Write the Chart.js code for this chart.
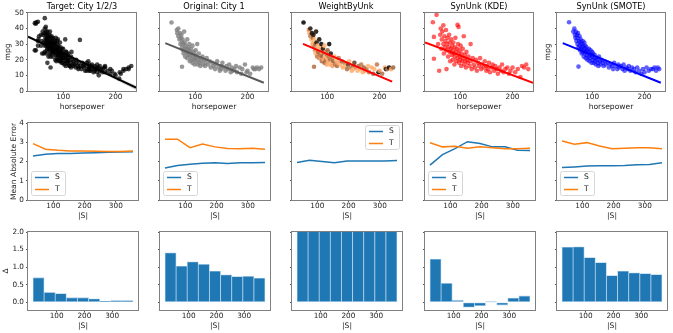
<!DOCTYPE html>
<html>
<head>
<meta charset="utf-8">
<script src="https://cdn.jsdelivr.net/npm/chart.js@4.4.0/dist/chart.umd.min.js"></script>
<style>
  html, body { margin: 0; padding: 0; background: #fff; }
  #fig { position: relative; width: 673px; height: 333px; }
  #fig canvas { position: absolute; }
</style>
</head>
<body>
<div id="fig"></div>
<script>
// ---- data ----
const panelTitles = ['Target: City 1/2/3', 'Original: City 1', 'WeightByUnk', 'SynUnk (KDE)', 'SynUnk (SMOTE)'];

// row 1: horsepower vs mpg
const targetPts = [
  [46,43.4],[46,26],[48,43.1],[48,26],[49,44],[52,44.3],[52,32],[52,29],[53,33],[54,35],[58,29],[58,36],[60,24],[60,32],[61,38],[62,36],[63,24],[63,31],[65,46.6],[65,40],[65,37],[65,29],[65,25],
  [66,34],[67,32],[67,36],[67,41],[67,30],[68,29],[68,38],[68,33],[68,24],[69,31],[69,33],[69,26],[70,36],[70,30],[70,27],[70,38],[70,18],[71,32],[71,34],[71,29],[72,28],[72,31],[72,35],[72,22],[74,26],[74,36],[74,31],[75,24],[75,29],[75,33],[75,38],[75,27],[76,15],[76,30],[76,34],[76,22],[77,27],[77,31],[78,32],[78,24],[78,35],[78,28],[79,26],[79,30],[80,28],[80,34],[80,22],[80,31],[80,25],
  [81,30],[81,26],[82,25],[82,33],[83,26],[83,29],[84,32],[84,30],[84,24],[85,27],[85,20],[85,31],[86,23],[86,28],[86,34],[87,19],[87,26],[88,24],[88,30],[88,21],[88,27],[89,26],[89,32],[90,25],[90,28],[90,20],[90,33],[90,23],[91,22],[91,29],[92,27],[92,24],[93,24],[93,19],[94,31],[94,26],[95,19],[95,23],[95,28],[95,21],[96,21],[96,25],[97,18],[97,25],[97,22],[98,22],[98,27],[99,20],[99,24],[100,24],[100,18],[100,27],[100,21],
  [102,17],[102,23],[103,21],[104,33],[105,16],[105,19],[105,22],[105,25],[106,25],[107,18],[107,21],[108,23],[108,19],[110,19],[110,17],[110,21],[110,24],[112,20],[112,16],[113,16],[115,18],[115,22],[115,15],[116,25],[118,17],[118,20],[120,19],[120,16],[122,17],[124,15],[125,20],[125,18],[128,16],[129,14],[130,18],[130,15],
  [132,32.7],[133,16],[135,14],[137,18],[138,16],[140,15],[140,17],[142,13],[145,13],[145,16],[145,18],[148,19],[148,14],[150,15],[150,14],[150,17],[150,13],[152,13],[153,16],[155,14],[155,17],[158,15],[158,12],[160,13],[160,16],[162,14],[163,14],[165,12],[165,17],[165,15],[167,15],[168,10],[170,13],[170,16],
  [172,14],[175,14],[175,12],[178,15],[180,12],[180,15],[180,16],[185,13],[190,11],[190,14],[193,13],[198,11],[200,10],[207,8],[208,12],[210,11],[215,14],[215,13],[220,14],[225,14],[225,15],[230,16]
];
const city1Pts = [
  [55,43.8],[65,39],[66,37],[68,35],[68,40],[70,33],[71,37],[72,30],[73,34],[74,36],[75,31],[75,28],[75,15.5],[76,33],[77,26],[78,30],[78,24],[79,38],[80,27],[80,31],
  [81,22],[82,29],[83,25],[84,27],[85,33],[85,21],[86,24],[87,28],[88,23],[88,26],[89,30],[90,19],[90,25],[91,22],[92,27],[93,20],[94,24],[95,29],[95,18],[96,22],
  [97,25],[98,20],[99,17],[100,23],[100,21],[101,26],[102,19],[103,22],[104,30],[105,17],[106,20],[107,24],[108,18],[110,21],[110,16],[112,19],[114,22],[115,17],[117,20],[119,16],
  [120,18],[122,21],[125,17],[128,19],[130,15],[133,18],[135,16],[138,14],[140,17],[142,19],[145,15],[147,13],[150,16],[150,14],[152,18],[155,15],[158,13],[160,16],[163,14],[165,17],
  [168,12],[170,15],[172,13],[175,14],[178,16],[180,12],[185,15],[188,11],[190,14],[195,17],[198,12],[200,13],[205,11],[210,15],[212,14],[215,14],[218,15],[222,14],[226,15]
];
// importance weight of each City 1 point (0 = dark, 1 = light)
const city1Weight = [
  0.0,0.7,0.9,0.6,0.1,0.9,0.05,0.8,0.5,0.1,0.9,0.6,0.55,0.95,0.7,0.5,0.9,0.05,0.8,0.1,
  0.6,0.9,0.5,0.95,0.05,0.7,0.55,0.9,0.6,0.85,0.0,0.55,0.9,0.5,0.1,0.8,0.6,0.9,0.5,0.95,
  0.7,0.55,0.8,0.6,0.9,0.5,0.85,0.6,0.0,0.9,0.55,0.1,0.9,0.6,0.8,0.5,0.9,0.6,0.95,0.55,
  0.8,0.6,0.9,0.5,0.85,0.6,0.9,0.55,0.3,0.9,0.6,0.85,0.5,0.9,0.3,0.7,0.9,0.55,0.85,0.6,
  0.9,0.5,0.8,0.55,0.9,0.6,0.85,0.5,0.9,0.6,0.0,0.8,0.55,0.9,0.1,0.6,0.05,0.85,0.5
];
const kdePts = [
  [48,44],[55,48.7],[50,34.6],[50,20.6],[58,30],[60,13],[62,36],[63,40],[64,27],[65,33],[66,38],[68,30],[68,42],[69,24],[70,35],[71,28],[72,32],[73,39],[74,14],[74,26],
  [75,30],[76,34],[77,22],[78,28],[79,36],[80,25],[80,31],[81,19],[82,27],[83,33],[84,23],[85,29],[86,20],[86,26],[87,31],[88,24],[89,17],[90,28],[90,22],[91,34],
  [92,25],[93,19],[94,27],[95,42.3],[95,21],[96,30],[97,41],[97,24],[98,18],[99,26],[100,22],[100,20],[101,29],[102,16],[103,24],[104,19],[105,27],[106,21],[107,35],[108,17],
  [109,23],[110,19],[111,15],[112,25],[113,20],[115,18],[116,22],[118,16],[120,30],[120,19],[122,14],[124,21],[126,17],[128,15],[130,20],[132,13],[134,18],[136,16],[138,21],[140,14],
  [142,17],[145,15],[147,19],[150,13],[150,16],[153,14],[155,18],[157,12],[160,15],[162,17],[165,13],[167,16],[170,14],[172,11],[175,15],[178,13],[180,17],[183,12],[186,14],[190,15],
  [193,11],[196,13],[200,15],[205,12],[210,14],[215,9],[218,16],[222,15],[226,17],[230,14]
];
const smotePts = [
  [56,44],[64,38],[66,40],[67,36],[68,34],[69,38],[70,32],[71,36],[72,30],[72,34],[73,37],[74,28],[74,15.6],[75,32],[76,35],[76,29],[77,26],[78,31],[78,33],[79,27],
  [80,30],[80,24],[81,28],[82,32],[82,25],[83,29],[84,26],[84,22],[85,31],[86,27],[86,24],[87,29],[88,25],[88,21],[89,28],[90,23],[90,26],[91,20],[92,25],[93,22],
  [94,27],[95,24],[95,19],[96,21],[97,26],[98,23],[99,18],[100,22],[100,25],[101,20],[102,24],[103,18],[104,21],[105,23],[106,19],[107,17],[108,21],[110,20],[111,18],[112,16],
  [113,22],[115,19],[116,17],[118,20],[120,18],[122,16],[124,19],[126,17],[130,18],[132,15],[135,17],[138,16],[140,14],[142,18],[145,16],[148,14],[150,17],[152,15],[155,16],[158,14],
  [160,17],[162,13],[165,15],[168,14],[170,16],[173,13],[176,15],[180,14],[183,12],[186,15],[190,13],[194,11],[197,14],[200,12],[204,15],[208,13],[212,14],[216,14],[219,15],[222,13],
  [225,15],[228,14]
];
// regression lines (end points) and the CI band of the target fit
const fitTarget = [[33,34.7],[239,2.1]];
const fitCity1 = [[43,30.6],[231,5.3]];
const fitWeight = [[54,30.1],[224,6.0]];
const fitKde = [[33,31.0],[239,5.3]];
const fitSmote = [[44,30.6],[231,5.3]];
const bandTargetUp = [[33,35.6],[120,21.2],[239,3.5]];
const bandTargetLow = [[33,33.8],[120,20.6],[239,0.7]];

// row 2 / 3: training set size |S|
const sizes = [35, 75, 115, 155, 195, 235, 275, 315, 355];
const maeS = {
  target: [2.29, 2.38, 2.41, 2.41, 2.44, 2.46, 2.48, 2.49, 2.5],
  city1:  [1.66, 1.79, 1.86, 1.91, 1.93, 1.90, 1.93, 1.93, 1.95],
  weight: [1.95, 2.07, 2.00, 1.93, 2.02, 2.02, 2.02, 2.03, 2.05],
  kde:    [1.81, 2.36, 2.67, 3.03, 2.93, 2.76, 2.76, 2.59, 2.57],
  smote:  [1.69, 1.72, 1.76, 1.78, 1.78, 1.79, 1.83, 1.84, 1.93]
};
const maeT = {
  target: [2.93, 2.64, 2.58, 2.55, 2.54, 2.53, 2.52, 2.52, 2.54],
  city1:  [3.16, 3.16, 2.72, 2.91, 2.76, 2.67, 2.66, 2.69, 2.64],
  weight: [6.2, 6.3, 6.1, 6.2, 6.2, 6.3, 6.2, 6.3, 6.2],
  kde:    [2.97, 2.76, 2.79, 2.69, 2.76, 2.71, 2.66, 2.66, 2.69],
  smote:  [3.07, 2.90, 2.98, 2.81, 2.66, 2.69, 2.71, 2.72, 2.66]
};
const delta = {
  target: [0.70, 0.28, 0.25, 0.13, 0.13, 0.10, 0.03, 0.05, 0.05],
  city1:  [1.41, 1.03, 1.15, 1.08, 0.89, 0.78, 0.73, 0.74, 0.69],
  weight: [4.2, 4.2, 4.1, 4.3, 4.2, 4.3, 4.2, 4.3, 4.2],
  kde:    [1.23, 0.54, 0.06, -0.14, -0.10, 0.01, -0.08, 0.12, 0.18],
  smote:  [1.57, 1.58, 1.27, 1.13, 0.76, 0.89, 0.84, 0.82, 0.79]
};
const keys = ['target', 'city1', 'weight', 'kde', 'smote'];

const hpTicks = [100, 200];
const mpgTicks = [0, 10, 20, 30, 40, 50];
const sizeTicks = [100, 200, 300];
const maeTicks = [0, 1, 2, 3, 4];
const deltaTicks = [0, 0.5, 1, 1.5, 2];

// ---- layout / style ----
Chart.defaults.font.family = '"DejaVu Sans", sans-serif';
Chart.defaults.color = '#222';

const colLeft = [28, 160, 292, 425, 557];
const AXW = 28, PLOTW = 110, AXH = 22;
const rows = [
  {top: 0, height: 113, pad: 0},
  {top: 115, height: 107, pad: 8},
  {top: 224, height: 108, pad: 8}
];
const tickFont = {size: 7.3};
const labelFont = {size: 7.6};
const blue = '#1f77b4', orange = '#ff7f0e';

const copper = w => `rgba(${Math.round(255 * Math.min(1, 1.25 * w))},${Math.round(255 * 0.7812 * w)},${Math.round(255 * 0.4975 * w)},0.85)`;
const xy = pts => pts.map(([x, y]) => ({x, y}));

// matplotlib-like box around the plot area
const frame = {
  id: 'frame',
  afterDraw(chart) {
    const {ctx, chartArea: a} = chart;
    ctx.save();
    ctx.strokeStyle = '#808080';
    ctx.lineWidth = 1;
    ctx.strokeRect(Math.round(a.left) - 0.5, Math.round(a.top) - 0.5,
      Math.round(a.right - a.left) + 1, Math.round(a.bottom - a.top) + 1);
    ctx.restore();
  }
};

// small framed legend inside the axes
const boxLegend = {
  id: 'boxLegend',
  afterDatasetsDraw(chart, args, opts) {
    if (!opts || !opts.corner) return;
    const {ctx, chartArea: a} = chart;
    const w = 34, h = 24;
    const x = opts.corner === 'ur' ? a.right - w - 3 : a.left + 3;
    const y = opts.corner === 'ur' ? a.top + 2 : a.bottom - h - 5;
    ctx.save();
    ctx.beginPath();
    ctx.roundRect(x + 0.5, y + 0.5, w, h, 2);
    ctx.fillStyle = 'rgba(255,255,255,0.85)';
    ctx.fill();
    ctx.strokeStyle = '#d6d6d6';
    ctx.lineWidth = 1;
    ctx.stroke();
    ctx.font = '7.6px "DejaVu Sans"';
    ctx.textBaseline = 'middle';
    chart.data.datasets.forEach((ds, i) => {
      const ly = y + 6.5 + i * 12;
      ctx.strokeStyle = ds.borderColor;
      ctx.lineWidth = 1.5;
      ctx.beginPath();
      ctx.moveTo(x + 4, ly);
      ctx.lineTo(x + 18, ly);
      ctx.stroke();
      ctx.fillStyle = '#222';
      ctx.fillText(ds.label, x + 24, ly);
    });
    ctx.restore();
  }
};

function axis(o) {
  const ticks = {display: o.labels, font: tickFont, color: '#222', padding: o.dim === 'width' ? 2 : 0, maxRotation: 0, autoSkip: false};
  if (o.fmt) ticks.callback = o.fmt;
  return {
    type: 'linear',
    min: o.min,
    max: o.max,
    offset: false,
    afterBuildTicks: s => { s.ticks = o.ticks.map(v => ({value: v})); },
    afterFit: s => { s[o.dim] = o.dim === 'width' ? AXW : AXH; },
    ticks,
    grid: {display: true, offset: false, drawOnChartArea: false, drawTicks: true, tickLength: 2, tickColor: '#555'},
    border: {display: false},
    title: {display: !!o.title, text: o.title || '', font: labelFont, color: '#222', padding: o.titlePad || {top: 0, bottom: 1}}
  };
}

function makeChart(col, row, type, datasets, scales, plugins) {
  const r = rows[row];
  const cv = document.createElement('canvas');
  cv.width = AXW + PLOTW + 2;
  cv.height = r.height;
  cv.style.left = (colLeft[col] - AXW) + 'px';
  cv.style.top = r.top + 'px';
  document.getElementById('fig').appendChild(cv);
  return new Chart(cv.getContext('2d'), {
    type,
    data: {datasets},
    options: {
      responsive: false,
      animation: false,
      devicePixelRatio: 1,
      events: [],
      layout: {padding: {top: r.pad, right: 2, left: 0, bottom: 0}},
      plugins: {legend: {display: false}, tooltip: {enabled: false}, ...plugins},
      scales
    },
    plugins: [boxLegend, frame]
  });
}

// ---- row 1: scatter + regression ----
const scatterPanels = [
  {pts: targetPts, color: 'rgba(0,0,0,0.72)', line: '#000', fit: fitTarget, xlabel: 'horsepower', ylabel: 'mpg', yPad: 3.5},
  {pts: city1Pts, color: 'rgba(128,128,128,0.8)', line: '#5a5a5a', fit: fitCity1, xlabel: 'horsepower'},
  {pts: city1Pts, color: city1Weight.map(copper), line: '#ff0000', fit: fitWeight},
  {pts: kdePts, color: 'rgba(255,0,0,0.62)', line: '#ff0000', fit: fitKde, xlabel: 'horsepower'},
  {pts: smotePts, color: 'rgba(0,0,255,0.62)', line: '#0000ff', fit: fitSmote, xlabel: 'horsepower', ylabel: 'mpg', yPad: 14.5}
];

scatterPanels.forEach((p, col) => {
  const sets = [
    {type: 'line', data: xy(p.fit), borderColor: p.line, borderWidth: 2, pointRadius: 0, fill: false, clip: 0, order: 0},
    {type: 'scatter', data: xy(p.pts), backgroundColor: p.color, pointRadius: 2.3, borderWidth: 0, clip: 0, order: 1}
  ];
  if (col === 0) {
    sets.push({type: 'line', data: xy(bandTargetLow), borderWidth: 0, pointRadius: 0, fill: false, clip: 0, order: 2});
    sets.push({type: 'line', data: xy(bandTargetUp), borderWidth: 0, pointRadius: 0, fill: '-1', backgroundColor: 'rgba(0,0,0,0.18)', clip: 0, order: 2});
  }
  makeChart(col, 0, 'scatter', sets, {
    x: axis({dim: 'height', min: 33, max: 239, ticks: hpTicks, labels: true, title: p.xlabel}),
    y: axis({dim: 'width', min: 0, max: 50, ticks: mpgTicks, labels: col === 0, title: p.ylabel, titlePad: {top: p.yPad || 0, bottom: 0}})
  }, {
    title: {display: true, fullSize: false, text: panelTitles[col], font: {size: 8.2, weight: 'normal'}, color: '#000', padding: {top: 2, bottom: 1}}
  });
});

// ---- row 2: mean absolute error vs |S| ----
keys.forEach((k, col) => {
  const sets = [
    {label: 'S', data: sizes.map((x, i) => ({x, y: maeS[k][i]})), borderColor: blue, borderWidth: 1.5, pointRadius: 0, fill: false, clip: 0, order: 1},
    {label: 'T', data: sizes.map((x, i) => ({x, y: maeT[k][i]})), borderColor: orange, borderWidth: 1.5, pointRadius: 0, fill: false, clip: 0, order: 0}
  ];
  makeChart(col, 1, 'line', sets, {
    x: axis({dim: 'height', min: 19, max: 371, ticks: sizeTicks, labels: true, title: '|S|'}),
    y: axis({dim: 'width', min: 0, max: 4, ticks: maeTicks, labels: col === 0, title: col === 0 ? 'Mean Absolute Error' : '', titlePad: {top: 9, bottom: 0}})
  }, {boxLegend: {corner: k === 'weight' ? 'ur' : 'bl'}});
});

// ---- row 3: delta bars ----
keys.forEach((k, col) => {
  const sets = [{
    data: sizes.map((x, i) => ({x, y: delta[k][i]})),
    backgroundColor: blue, borderColor: '#a9cde8', borderWidth: 0.8, borderSkipped: false,
    barPercentage: 1, categoryPercentage: 1, clip: 0
  }];
  makeChart(col, 2, 'bar', sets, {
    x: axis({dim: 'height', min: -3, max: 393, ticks: sizeTicks, labels: true, title: '|S|'}),
    y: axis({dim: 'width', min: -0.22, max: 2, ticks: deltaTicks, labels: col === 0, fmt: v => v.toFixed(1), title: col === 0 ? 'Δ' : '', titlePad: {top: 1.5, bottom: 0}})
  }, {});
});
</script>
</body>
</html>
